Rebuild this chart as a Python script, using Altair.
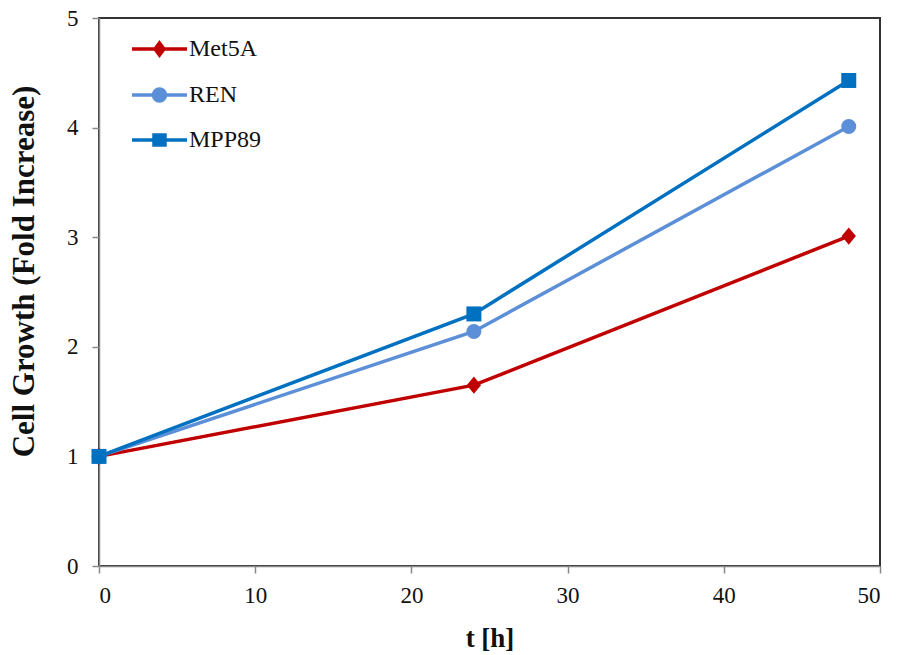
import altair as alt
import pandas as pd

t_hours = [0, 24, 48]
series_names = ["Met5A", "REN", "MPP89"]
met5a = [1.0, 1.65, 3.01]
ren = [1.0, 2.14, 4.01]
mpp89 = [1.0, 2.30, 4.43]
colors = ["#C00000", "#5B8FD8", "#0070C0"]

rows = []
for name, vals in zip(series_names, [met5a, ren, mpp89]):
    for t, v in zip(t_hours, vals):
        rows.append({"t": t, "value": v, "series": name})
df = pd.DataFrame(rows)

FONT = "Times New Roman, Liberation Serif, DejaVu Serif, serif"

diamond = "M0,-1.15L0.95,0L0,1.15L-0.95,0Z"
shape_range = [diamond, "circle", "square"]

# legend symbols: line segment + marker
leg_met = "M-4.5,0H1M-1.75,-0.6L-1.3,0L-1.75,0.6L-2.2,0Z"
leg_ren = "M-4.5,0H1M-1.15,0A0.6,0.6 0 1,1 -2.35,0A0.6,0.6 0 1,1 -1.15,0Z"
leg_mpp = "M-4.5,0H1M-2.3,-0.5H-1.2V0.5H-2.3Z"
legend_shapes = [leg_met, leg_ren, leg_mpp]

color_scale = alt.Scale(domain=series_names, range=colors)

x_enc = alt.X(
    "t:Q",
    scale=alt.Scale(domain=[0, 50], nice=False),
    axis=alt.Axis(
        values=[0, 10, 20, 30, 40, 50], format="d", title="t [h]", titlePadding=18,
        labelFont=FONT, labelFontSize=23, labelPadding=11,
        titleFont=FONT, titleFontSize=27,
    ),
)
y_enc = alt.Y(
    "value:Q",
    scale=alt.Scale(domain=[0, 5], nice=False),
    axis=alt.Axis(
        values=[0, 1, 2, 3, 4, 5], format="d", title="Cell Growth  (Fold Increase)",
        titleX=-75, titleY=253, titleAngle=270, titleAlign="center", titleBaseline="middle",
        labelFont=FONT, labelFontSize=23, labelPadding=14,
        titleFont=FONT, titleFontSize=31,
    ),
)

lines = alt.Chart(df).mark_line(strokeWidth=3.5).encode(
    x=x_enc,
    y=y_enc,
    color=alt.Color("series:N", scale=color_scale, legend=None),
    order=alt.Order("t:Q"),
)

points = alt.Chart(df).mark_point(filled=True, opacity=1, size=225).encode(
    x="t:Q",
    y="value:Q",
    color=alt.Color("series:N", scale=color_scale, legend=None),
    shape=alt.Shape("series:N", scale=alt.Scale(domain=series_names, range=shape_range), legend=None),
)

leg = alt.Legend(
    orient="none",
    legendX=66,
    legendY=19,
    title=None,
    padding=0,
    symbolSize=400,
    symbolStrokeWidth=3.5,
    symbolOpacity=1,
    labelFont=FONT,
    labelFontSize=24,
    labelColor="#111111",
    labelOffset=0,
    rowPadding=20,
)

legend_layer = (
    alt.Chart(df)
    .transform_filter("false")
    .mark_point(filled=True, opacity=1)
    .encode(
        x="t:Q",
        y="value:Q",
        fill=alt.Fill("series:N", scale=alt.Scale(domain=series_names, range=colors), legend=leg),
        stroke=alt.Stroke("series:N", scale=alt.Scale(domain=series_names, range=colors), legend=leg),
        shape=alt.Shape("series:N", scale=alt.Scale(domain=series_names, range=legend_shapes), legend=leg),
    )
)

chart = (
    alt.layer(lines, points, legend_layer)
    .resolve_scale(shape="independent", fill="independent", stroke="independent")
    .properties(
        width=781,
        height=548,
        autosize=alt.AutoSizeParams(type="none"),
        padding={"left": 99, "top": 18, "right": 19, "bottom": 89},
        background="white",
    )
    .configure(font=FONT)
    .configure_view(stroke="#333333", strokeWidth=2)
    .configure_axis(
        grid=False,
        domainColor="#888888",
        domainWidth=1.5,
        tickColor="#888888",
        tickWidth=1.5,
        tickSize=7,
        labelFont=FONT,
        labelColor="#111111",
        titleFont=FONT,
        titleFontWeight="bold",
        titleColor="#111111",
    )
)

chart.save("out.html", embed_options={"renderer": "svg", "actions": False})
